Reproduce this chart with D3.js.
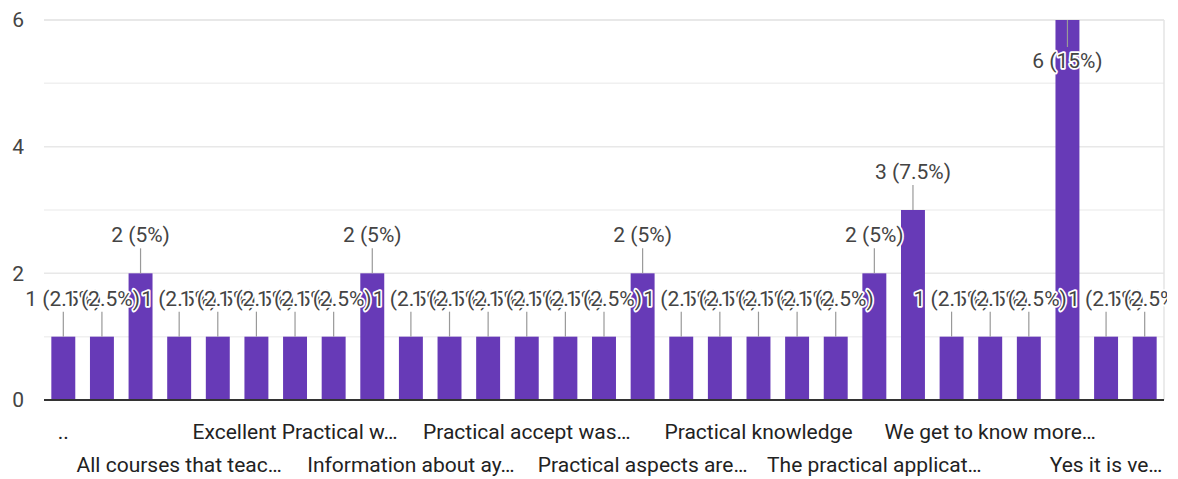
<!DOCTYPE html>
<html>
<head>
<meta charset="utf-8">
<script src="https://cdn.jsdelivr.net/npm/d3@7"></script>
<style>
  html, body { margin: 0; padding: 0; background: #fff; }
  svg { display: block; font-family: Roboto, Arial, sans-serif; }
</style>
</head>
<body>
<svg id="chart" width="1178" height="479"></svg>
<script>
// ---- data ----
const categories = [
  "..", "A good experience", "All are useful", "All courses that teac\u2026",
  "Best course", "Course content is good", "Excellent Practical w\u2026", "Good",
  "Helpful", "Information about ay\u2026", "It is good", "It was helpful",
  "Practical accept was\u2026", "Practical and theory", "Practical application",
  "Practical aspects are\u2026", "Practical classes", "Practical exposure",
  "Practical knowledge", "Practical learning", "Practical sessions",
  "The practical applicat\u2026", "Useful", "Very good", "We get to know more\u2026",
  "Work experience", "Yes", "Yes it is ve\u2026", "Yes, useful"
];
const counts = [1,1,2,1,1,1,1,1,2,1,1,1,1,1,1,2,1,1,1,1,1,2,3,1,1,1,6,1,1];
const yTicks = [0, 2, 4, 6];
const yGrid = [1, 2, 3, 4, 5, 6];

(function () {
// ---- layout ----
const svg = d3.select("#chart");
const pLeft = 44, pRight = 1164, pTop = 20, pBottom = 400;
const total = d3.sum(counts);
const idx = d3.range(categories.length);
const FS = 21;

const x = d3.scaleBand().domain(idx).range([pLeft, pRight]).paddingInner(0.38).paddingOuter(0.19);
const y = d3.scaleLinear().domain([0, 6]).range([pBottom, pTop]);

svg.append("defs").append("clipPath").attr("id", "labclip")
  .append("rect").attr("x", 0).attr("y", 0).attr("width", pRight + 3).attr("height", 479);

// gridlines
svg.append("g").selectAll("line").data(yGrid).join("line")
  .attr("x1", pLeft).attr("x2", pRight)
  .attr("y1", d => y(d)).attr("y2", d => y(d))
  .attr("stroke", d => d % 2 === 0 ? "#e8e8e8" : "#f0f0f0")
  .attr("stroke-width", d => d === 6 ? 2 : 1.5);

// right border line
svg.append("line").attr("x1", pRight).attr("x2", pRight).attr("y1", pTop).attr("y2", pBottom)
  .attr("stroke", "#e4e4e4").attr("stroke-width", 1.5);

// y axis labels
const yAxis = d3.axisLeft(y).tickValues(yTicks).tickSize(0).tickPadding(20).tickFormat(d3.format("d"));
const ya = svg.append("g").attr("transform", `translate(${pLeft},0)`).call(yAxis);
ya.select(".domain").remove();
ya.selectAll("text").attr("font-size", FS).attr("fill", "#444").attr("font-family", "Roboto, Arial, sans-serif");

// bars
svg.append("g").selectAll("rect").data(idx).join("rect")
  .attr("x", i => x(i)).attr("width", x.bandwidth())
  .attr("y", i => y(counts[i])).attr("height", i => y(0) - y(counts[i]))
  .attr("fill", "#673ab7");

// baseline
svg.append("line").attr("x1", pLeft).attr("x2", pRight).attr("y1", y(0)).attr("y2", y(0))
  .attr("stroke", "#333").attr("stroke-width", 2);

// x axis labels (every third, staggered on two rows)
const xa = d3.axisBottom(x).tickSize(0).tickValues(idx.filter(i => i % 3 === 0))
  .tickFormat(i => categories[i]);
const xg = svg.append("g").attr("transform", `translate(0,${pBottom})`).call(xa);
xg.select(".domain").remove();
xg.selectAll("text")
  .attr("font-size", FS).attr("fill", "#222").attr("font-family", "Roboto, Arial, sans-serif")
  .attr("dy", null)
  .attr("y", i => (i / 3) % 2 === 0 ? 39 : 72);

// value labels with leader lines
const fmtPct = v => d3.format(".2~f")(v / total * 100) + "%";
const lab = svg.append("g").attr("clip-path", "url(#labclip)");
idx.forEach(i => {
  const v = counts[i];
  const cx = x(i) + x.bandwidth() / 2;
  const barTop = y(v);
  let baseline, lineEnd;
  if (barTop - 46 < pTop) {
    baseline = barTop + 48;
    lineEnd = baseline - 21;
  } else {
    baseline = barTop - 31;
    lineEnd = baseline + 6;
  }
  lab.append("line")
    .attr("x1", cx).attr("x2", cx).attr("y1", barTop).attr("y2", lineEnd)
    .attr("stroke", "#999").attr("stroke-width", 1.2);
  lab.append("text")
    .attr("x", cx).attr("y", baseline)
    .attr("text-anchor", "middle")
    .attr("font-size", FS)
    .attr("fill", "#444")
    .attr("stroke", "#fff").attr("stroke-width", 3.5)
    .attr("stroke-linejoin", "round")
    .attr("paint-order", "stroke")
    .text(`${v} (${fmtPct(v)})`);
});
})();
</script>
</body>
</html>
